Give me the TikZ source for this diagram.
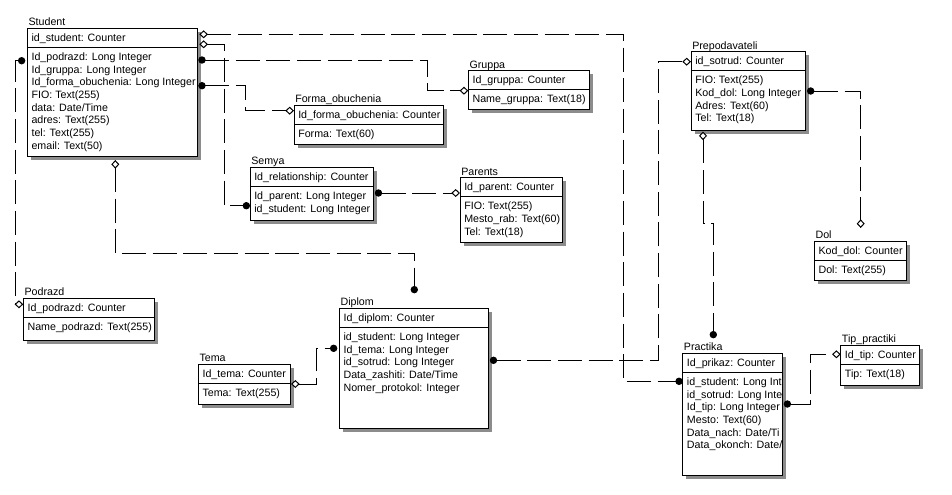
\documentclass[tikz,border=0pt]{standalone}
\usepackage{fontspec}
\setmainfont{Liberation Sans}
\usetikzlibrary{calc,arrows.meta}

% #1 node, #2 title, #3 x, #4 y, #5 width, #6 height, #7 key, #8 fields
\newcommand{\ertable}[8]{%
	\fill[tblshadow] (#3+3.5,#4+3.5) rectangle ++(#5,#6);
	\node[tbl,minimum width=#5*0.75pt,minimum height=#6*0.75pt] (#1) at (#3,#4) {};
	\node[ttl] at (#3+1,#4-2.5) {#2};
	\draw[line width=0.75pt] (#3,#4+19) -- ++(#5,0);
	\node[fld] at (#3+4,#4+13) {#7};
	\begin{scope}
		\clip (#3,#4) rectangle ++(#5,#6);
		\foreach \row [count=\n from 0] in {#8}
		\node[fld] at (#3+4,#4+32+\n*12.7) {\row};
	\end{scope}
}

\begin{document}
\begin{tikzpicture}[x=0.75pt,y=-0.75pt,
	tbl/.style={draw,fill=white,line width=0.75pt,anchor=north west,inner sep=0pt,outer sep=0pt},
	tblshadow/.style={fill=black!45},
	ttl/.style={anchor=base west,inner sep=0pt,font=\fontsize{8}{9}\selectfont},
	fld/.style={anchor=base west,inner sep=0pt,font=\fontsize{8}{9}\selectfont},
	rel/.style={line width=0.75pt,dash pattern=on 18pt off 5pt},
	manyend/.tip={Circle[length=5.5pt]},
	oneend/.tip={Diamond[fill=white,length=6.5pt,width=6pt]}]
	\fill[white] (0,0) rectangle (952,494);
	\useasboundingbox (0,0) rectangle (952,494);
	
	\ertable{student}{Student}{27.3}{28.3}{170}{128.4}{id\_student: Counter}{Id\_podrazd: Long Integer,Id\_gruppa: Long Integer,Id\_forma\_obuchenia: Long Integer,FIO: Text(255),data: Date/Time,adres: Text(255),tel: Text(255),email: Text(50)}
	\ertable{gruppa}{Gruppa}{468.3}{70.7}{120.7}{38.6}{Id\_gruppa: Counter}{Name\_gruppa: Text(18)}
	\ertable{forma}{Forma\_obuchenia}{294}{105}{149.3}{39}{Id\_forma\_obuchenia: Counter}{Forma: Text(60)}
	\ertable{semya}{Semya}{250}{167.3}{123.3}{52.7}{Id\_relationship: Counter}{Id\_parent: Long Integer,id\_student: Long Integer}
	\ertable{parents}{Parents}{460}{177.7}{102.3}{65}{Id\_parent: Counter}{FIO: Text(255),Mesto\_rab: Text(60),Tel: Text(18)}
	\ertable{prepod}{Prepodavateli}{691}{51.7}{114}{78.3}{id\_sotrud: Counter}{FIO: Text(255),Kod\_dol: Long Integer,Adres: Text(60),Tel: Text(18)}
	\ertable{dol}{Dol}{814.3}{241}{92.4}{39}{Kod\_dol: Counter}{Dol: Text(255)}
	\ertable{podrazd}{Podrazd}{23.3}{298.3}{130.7}{41.7}{Id\_podrazd: Counter}{Name\_podrazd: Text(255)}
	\ertable{tema}{Tema}{198.3}{364}{91.7}{40}{Id\_tema: Counter}{Tema: Text(255)}
	\ertable{diplom}{Diplom}{339.3}{308.3}{149}{120}{Id\_diplom: Counter}{id\_student: Long Integer,Id\_tema: Long Integer,id\_sotrud: Long Integer,Data\_zashiti: Date/Time,Nomer\_protokol: Integer}
	\ertable{practika}{Practika}{682.7}{353.3}{100}{121.7}{Id\_prikaz: Counter}{id\_student: Long Int,id\_sotrud: Long Inte,Id\_tip: Long Integer,Mesto: Text(60),Data\_nach: Date/Ti,Data\_okonch: Date/}
	\ertable{tip}{Tip\_practiki}{840.7}{345}{78.3}{40}{Id\_tip: Counter}{Tip: Text(18)}
	
	% links
	\draw[rel,oneend-manyend] ($(student.north east)+(2,6)$) -- ++(424,0) |- ($(practika.north west)+(0,28)$);
	\draw[rel,oneend-manyend] ($(student.north east)+(2,16)$) -- ++(25,0) |- ($(semya.north west)+(0,38.4)$);
	\draw[rel,manyend-oneend] ($(student.north east)+(1,31.7)$) -- ++(229,0) |- ($(gruppa.north west)+(0,20)$);
	\draw[rel,manyend-oneend] ($(student.north east)+(1,57.4)$) -- ++(47,0) |- ($(forma.north west)+(0,5.7)$);
	\draw[rel,manyend-oneend] ($(student.north west)+(-2,32.4)$) -- ++(-10,0) |- ($(podrazd.north west)+(0,6)$);
	\draw[rel,oneend-manyend] ($(student.south west)+(88,3.3)$) -- ++(0,93.3) -| ($(diplom.north west)+(75,-15)$);
	\draw[rel,manyend-oneend] ($(semya.north east)+(1.5,25.7)$) -- ($(parents.north west)+(0,15.3)$);
	\draw[rel,oneend-manyend] ($(tema.north east)+(1,20)$) -- ++(25.7,0) |- ($(diplom.north west)+(-2,40)$);
	\draw[rel,manyend-oneend] ($(diplom.north east)+(1.5,52)$) -- ++(169,0) |- ($(prepod.north west)+(0,10)$);
	\draw[rel,oneend-manyend] ($(prepod.south west)+(12,1.5)$) -- ++(0,91.7) -| ($(practika.north west)+(30.6,-15)$);
	\draw[rel,manyend-oneend] ($(prepod.north east)+(2,39.3)$) -| ($(dol.north west)+(46.4,-13)$);
	\draw[rel,manyend-oneend] ($(practika.north east)+(1,50.7)$) -- ++(27,0) |- ($(tip.north west)+(0,9.3)$);
\end{tikzpicture}
\end{document}
